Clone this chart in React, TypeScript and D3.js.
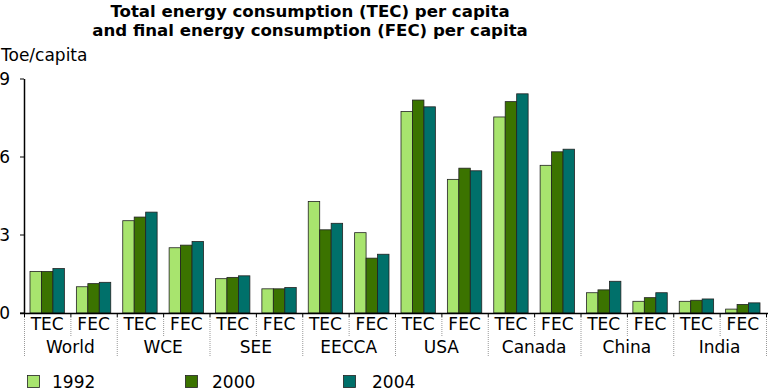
import React from 'react';
import * as d3 from 'd3';

const regions = ['World', 'WCE', 'SEE', 'EECCA', 'USA', 'Canada', 'China', 'India'];
const measures = ['TEC', 'FEC'];
const years = ['1992', '2000', '2004'];
const colors = ['#a8e46e', '#3b7300', '#00706a'];

// values per year, in order World TEC, World FEC, WCE TEC, ...
const values1992 = [1.6, 1.01, 3.55, 2.51, 1.32, 0.93, 4.29, 3.09, 7.75, 5.14, 7.54, 5.68, 0.78, 0.45, 0.45, 0.15];
const values2000 = [1.6, 1.13, 3.69, 2.61, 1.37, 0.93, 3.2, 2.11, 8.19, 5.57, 8.13, 6.2, 0.89, 0.59, 0.49, 0.33];
const values2004 = [1.71, 1.18, 3.88, 2.75, 1.43, 0.98, 3.45, 2.26, 7.93, 5.47, 8.43, 6.3, 1.22, 0.78, 0.54, 0.39];
const series = [values1992, values2000, values2004];
const yTicks = [0, 3, 6, 9];

const width = 768;
const height = 391;
const font = 'Verdana, "DejaVu Sans", sans-serif';

export default function App() {
  const left = 24;
  const right = 766;
  const top = 79;
  const bottom = 313;

  const cats = regions.flatMap(r => measures.map(m => `${r}|${m}`));
  const x = d3.scaleBand().domain(cats).range([left, right]).paddingInner(0).paddingOuter(0);
  const inner = d3.scaleBand().domain(years).range([6, x.bandwidth() - 6]);
  const y = d3.scaleLinear().domain([0, 9]).range([bottom, top]);

  const regionW = x.bandwidth() * 2;

  return (
    <svg width={width} height={height} style={{ position: 'absolute', left: 0, top: 0, background: '#fff' }} fontFamily={font}>
      <text x={310} y={17} textAnchor="middle" fontWeight="bold" fontSize={16.6}>Total energy consumption (TEC) per capita</text>
      <text x={310} y={36} textAnchor="middle" fontWeight="bold" fontSize={16.6}>and final energy consumption (FEC) per capita</text>
      <text x={1} y={61} fontSize={17}>Toe/capita</text>

      {yTicks.map(t => (
        <g key={t}>
          <line x1={left - 4} x2={left} y1={y(t)} y2={y(t)} stroke="#000" />
          <text x={10} y={y(t) + 6} textAnchor="end" fontSize={17}>{t}</text>
        </g>
      ))}

      {cats.map((c, i) => (
        <g key={c}>
          {series.map((vals, s) => (
            <rect
              key={s}
              x={(x(c) as number) + (inner(years[s]) as number)}
              y={y(vals[i])}
              width={inner.bandwidth()}
              height={bottom - y(vals[i])}
              fill={colors[s]}
              stroke="#222"
              strokeWidth={0.8}
            />
          ))}
          <text x={(x(c) as number) + x.bandwidth() / 2} y={330} textAnchor="middle" fontSize={17}>{c.split('|')[1]}</text>
        </g>
      ))}

      {cats.map((c, i) => (
        <line
          key={c}
          x1={(x(c) as number) + 0.5}
          x2={(x(c) as number) + 0.5}
          y1={bottom + 4}
          y2={i % 2 === 0 ? 357 : 336}
          stroke="#999"
          strokeDasharray="1,1"
        />
      ))}
      <line x1={right + 0.5} x2={right + 0.5} y1={bottom + 4} y2={357} stroke="#999" strokeDasharray="1,1" />

      {cats.map(c => (
        <line key={c} x1={(x(c) as number) + 0.5} x2={(x(c) as number) + 0.5} y1={bottom} y2={bottom + 4} stroke="#000" />
      ))}
      <line x1={right + 0.5} x2={right + 0.5} y1={bottom} y2={bottom + 4} stroke="#000" />

      {regions.map((r, i) => (
        <text key={r} x={left + regionW * i + regionW / 2} y={353} textAnchor="middle" fontSize={17}>{r}</text>
      ))}

      <line x1={left + 0.5} x2={left + 0.5} y1={top} y2={bottom} stroke="#000" strokeWidth={1.5} />
      <line x1={left - 4} x2={768} y1={bottom + 0.5} y2={bottom + 0.5} stroke="#000" strokeWidth={1.5} />

      {years.map((yr, i) => (
        <g key={yr}>
          <rect x={27.5 + i * 158} y={375.5} width={12} height={12} fill={colors[i]} stroke="#222" strokeWidth={0.8} />
          <text x={52 + i * 160} y={388} fontSize={17}>{yr}</text>
        </g>
      ))}
    </svg>
  );
}
